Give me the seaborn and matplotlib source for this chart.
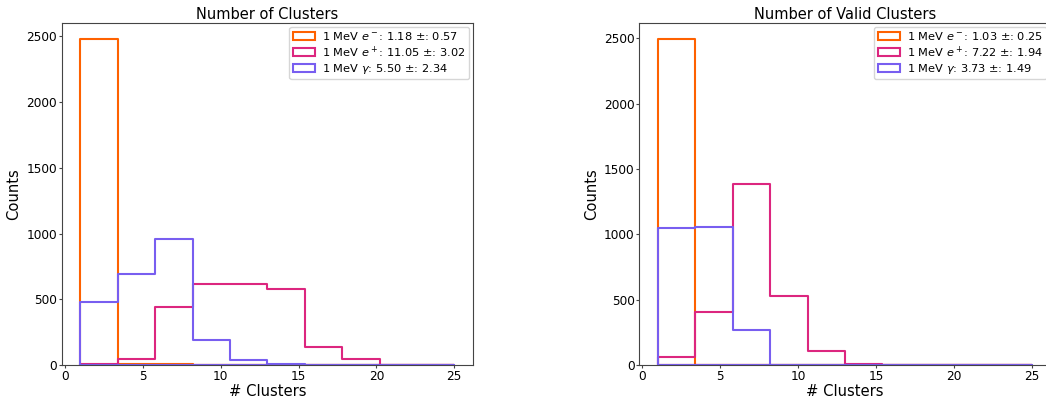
import numpy as np
import pandas as pd
import matplotlib
matplotlib.use("Agg")
import matplotlib.pyplot as plt
import seaborn as sns

# Histogram binning: 10 equal bins between 1 and 25 clusters
bin_lo, bin_hi, n_bins = 1.0, 25.0, 10
edges = np.linspace(bin_lo, bin_hi, n_bins + 1)
centers = 0.5 * (edges[:-1] + edges[1:])

# Counts per bin, all clusters
all_electron = [2480, 10, 8, 2, 2, 0, 0, 0, 0, 0]
all_positron = [5, 50, 440, 615, 620, 580, 135, 45, 2, 1]
all_gamma = [480, 695, 955, 190, 40, 5, 0, 0, 0, 0]

# Counts per bin, valid clusters only
valid_electron = [2495, 3, 1, 0, 0, 0, 0, 0, 0, 0]
valid_positron = [65, 410, 1385, 525, 105, 5, 1, 0, 0, 0]
valid_gamma = [1050, 1055, 265, 3, 0, 0, 0, 0, 0, 0]

labels = [r"1 MeV $e^-$", r"1 MeV $e^+$", r"1 MeV $\gamma$"]
colors = ["#FE6100", "#DC267F", "#785EF0"]

all_stats = [(1.18, 0.57), (11.05, 3.02), (5.50, 2.34)]
valid_stats = [(1.03, 0.25), (7.22, 1.94), (3.73, 1.49)]

panels = [
    ("Number of Clusters", [all_electron, all_positron, all_gamma], all_stats),
    ("Number of Valid Clusters", [valid_electron, valid_positron, valid_gamma], valid_stats),
]

plt.rcParams.update({
    "axes.edgecolor": "#444444",
    "xtick.color": "#444444",
    "ytick.color": "#444444",
    "xtick.labelcolor": "black",
    "ytick.labelcolor": "black",
})

fig = plt.figure(figsize=(10.46, 4.03), dpi=100)
axes = [
    fig.add_axes([0.059, 0.094, 0.3932, 0.850]),
    fig.add_axes([0.6112, 0.094, 0.3932, 0.850]),
]

for ax, (title, series, stats) in zip(axes, panels):
    for counts, label, color, (mean, std) in zip(series, labels, colors, stats):
        df = pd.DataFrame({"n": centers, "w": counts})
        sns.histplot(
            data=df, x="n", weights="w", bins=n_bins, binrange=(bin_lo, bin_hi),
            element="step", fill=True, color=color, facecolor="none",
            linewidth=1.5, label=f"{label}: {mean:.2f} ±: {std:.2f}", ax=ax,
        )
    ax.set_title(title, fontsize=10.5, pad=2.5)
    ax.set_xlabel("# Clusters", fontsize=10.6, labelpad=1)
    ax.set_ylabel("Counts", fontsize=10.6, labelpad=3.5)
    ax.tick_params(labelsize=8.7, length=2.2, pad=1.2)
    ax.set_xticks([0, 5, 10, 15, 20, 25])
    ax.set_yticks([0, 500, 1000, 1500, 2000, 2500])
    ax.legend(loc="upper right", fontsize=8.2, handlelength=2.0,
              handletextpad=0.6, borderpad=0.3, borderaxespad=0.35,
              labelspacing=0.2)

fig.savefig("out.png", dpi=100)
